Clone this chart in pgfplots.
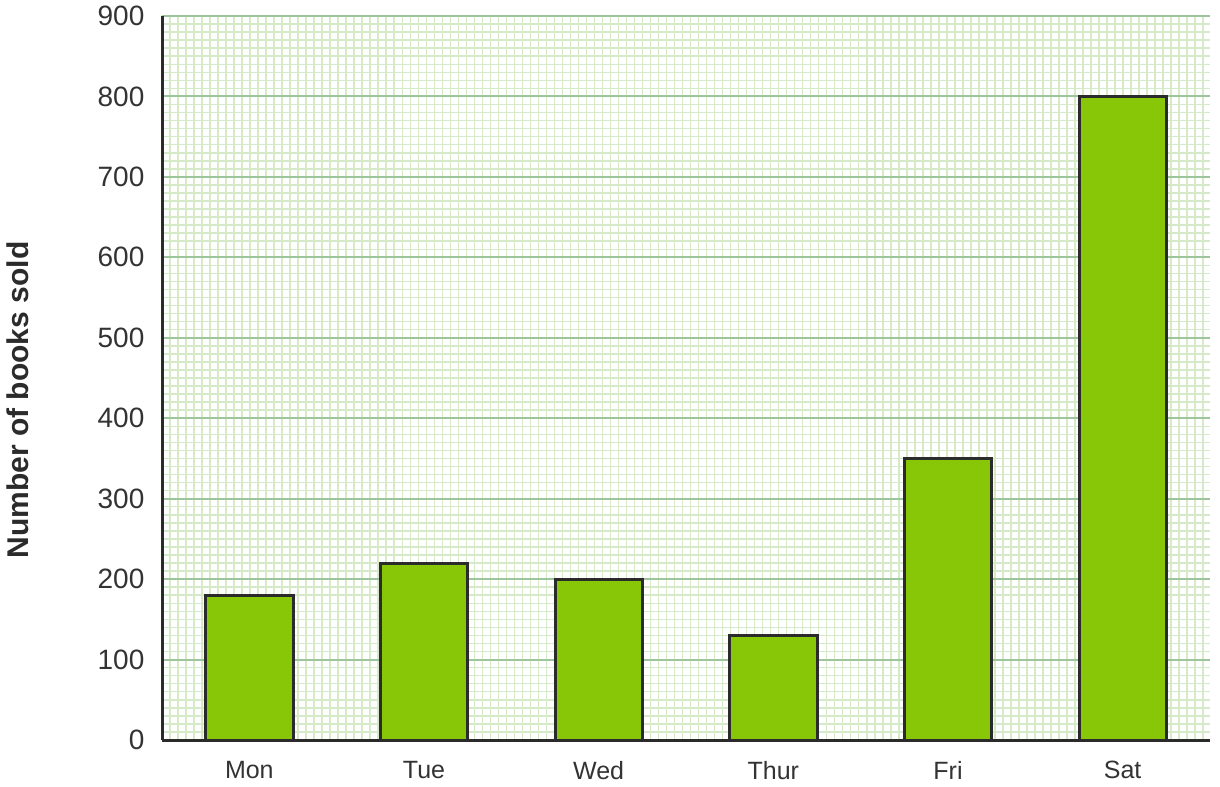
\documentclass[border=0pt]{standalone}
\usepackage{pgfplots}
\pgfplotsset{compat=1.18}
\usepackage{fontspec}
\setmainfont{Liberation Sans}
\definecolor{barGreen}{HTML}{88C708}
\definecolor{edgeDark}{HTML}{2B2B2B}
\definecolor{gridMajor}{HTML}{9CC59C}
\definecolor{gridMinor}{HTML}{D6E9C8}
\definecolor{labelGray}{HTML}{333333}
\begin{document}
\begin{tikzpicture}
  \begin{axis}[
    name=ax,
    scale only axis,
    width=524pt,
    height=362pt,
    xmin=-0.5, xmax=5.5,
    ymin=0, ymax=900,
    ytick distance=100,
    minor y tick num=9,
    xtick={0,1,2,3,4,5},
    xticklabels={Mon,Tue,Wed,Thur,Fri,Sat},
    minor xtick={-0.5,-0.45415,...,5.5},
    major tick length=0pt,
    minor tick length=0pt,
    axis x line*=bottom,
    axis y line*=left,
    axis line style={edgeDark, line width=1.5pt},
    ymajorgrids,
    yminorgrids,
    xminorgrids,
    major grid style={gridMajor, line width=1pt},
    minor grid style={gridMinor, line width=0.75pt},
    /pgf/number format/assume math mode=true,
    xticklabel style={font=\fontsize{12.5}{15}\selectfont, text=labelGray, yshift=-7pt},
    yticklabel style={font=\fontsize{14}{16}\selectfont, text=labelGray, xshift=-5.3pt},
    ylabel={Number of books sold},
    every axis y label/.style={at={(rel axis cs:0,0.5)}, xshift=-72pt, yshift=-11pt, rotate=90, anchor=center,
      font=\bfseries\fontsize{15}{18}\selectfont, text=edgeDark},
    clip=false,
  ]
    \addplot[ybar, bar width=0.5, fill=barGreen, draw=edgeDark, line width=1.5pt]
      coordinates {(0,180) (1,220) (2,200) (3,130) (4,350) (5,800)};
  \end{axis}
  \pgfresetboundingbox
  \useasboundingbox ([xshift=-81pt,yshift=-23pt]ax.south west) rectangle ([xshift=5pt,yshift=8pt]ax.north east);
\end{tikzpicture}
\end{document}
